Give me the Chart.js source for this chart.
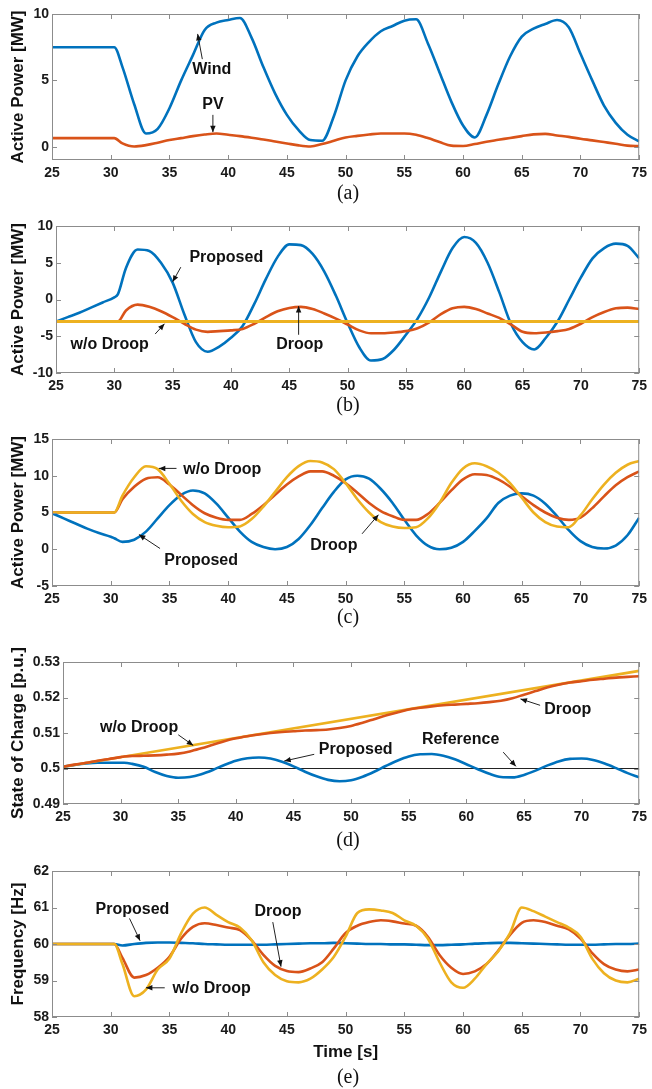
<!DOCTYPE html>
<html>
<head>
<meta charset="utf-8">
<script src="https://cdn.jsdelivr.net/npm/chart.js@4.4.0/dist/chart.umd.min.js"></script>
<style>
  body { margin: 0; background: #fff; width: 652px; height: 1089px; position: relative; overflow: hidden; }
  canvas { position: absolute; left: 0; }
  .cap { position: absolute; left: 248px; width: 200px; text-align: center; height: 24px; line-height: 24px;
         font: 20px "Liberation Serif", "Times New Roman", serif; color: #111; }
</style>
</head>
<body>
<script>
// time axis (s)
const time = [25, 26, 27, 28, 29, 30, 30.3, 31, 32, 33, 34, 35, 36, 37, 38, 39, 40,
  41, 42, 43, 44, 45, 46, 47, 48, 49, 50, 51, 52, 53, 54, 55, 56, 57, 58, 59, 60,
  61, 62, 63, 64, 65, 66, 67, 68, 69, 70, 71, 72, 73, 74, 75];
const flatTime = [25, 75];
const timeTicks = [25, 30, 35, 40, 45, 50, 55, 60, 65, 70, 75];

// (a) wind / PV power [MW]
const windPower = [7.5, 7.5, 7.5, 7.5, 7.5, 7.5, 7.5,
  6.0, 3.2, 1.0, 1.35, 2.9, 5.0, 6.9, 8.8, 9.35, 9.55,
  9.7, 8.2, 6.0, 4.0, 2.4, 1.25, 0.5, 0.45, 2.3, 5.0,
  6.8, 7.9, 8.7, 9.1, 9.5, 9.6, 7.8, 5.6, 3.4, 1.6,
  0.7, 2.4, 4.7, 6.8, 8.3, 8.9, 9.25, 9.55, 9.0, 7.0,
  5.0, 3.1, 1.8, 0.9, 0.4];
const pvPower = [0.65, 0.65, 0.65, 0.65, 0.65, 0.65, 0.65,
  0.25, 0.02, 0.12, 0.3, 0.5, 0.65, 0.8, 0.92, 1.0, 0.9,
  0.8, 0.68, 0.55, 0.4, 0.25, 0.1, 0.02, 0.2, 0.45, 0.7,
  0.82, 0.92, 1.0, 1.0, 1.0, 0.9, 0.65, 0.35, 0.08, 0.05,
  0.2, 0.38, 0.52, 0.66, 0.8, 0.93, 0.97, 0.85, 0.74, 0.6,
  0.48, 0.35, 0.22, 0.08, 0.05];
const powerTicksA = [0, 5, 10];

// (b) active power [MW]
const bProposed = [-3.0, -2.4, -1.8, -1.1, -0.4, 0.3, 0.7,
  4.3, 6.8, 6.6, 5.0, 2.3, -2.0, -5.8, -7.1, -6.4, -5.2,
  -3.6, -0.6, 2.8, 5.8, 7.5, 7.4, 6.2, 3.8, 0.5, -3.2,
  -6.5, -8.3, -8.1, -6.8, -4.8, -2.6, 0.3, 3.8, 7.0, 8.5,
  7.7, 5.0, 1.0, -3.3, -5.8, -6.8, -5.2, -3.0, 0.0, 3.0,
  5.6, 7.0, 7.6, 7.3, 5.6];
const bDroop = [-3, -3, -3, -3, -3, -3, -3,
  -1.5, -0.7, -1.0, -1.6, -2.4, -3.3, -4.1, -4.4, -4.3, -4.2,
  -4.0, -3.3, -2.4, -1.6, -1.15, -1.0, -1.3, -1.9, -2.6, -3.4,
  -4.2, -4.6, -4.6, -4.5, -4.3, -3.9, -3.1, -2.0, -1.2, -1.0,
  -1.3, -1.9, -2.5, -3.4, -4.4, -4.6, -4.5, -4.3, -4.0, -3.3,
  -2.4, -1.7, -1.2, -1.1, -1.3];
const bNoDroop = [-3, -3];
const powerTicksB = [-10, -5, 0, 5, 10];

// (c) active power [MW]
const cProposed = [4.9, 4.2, 3.5, 2.8, 2.2, 1.7, 1.5,
  1.0, 1.3, 2.4, 4.2, 6.0, 7.4, 8.0, 7.6, 6.2, 4.3,
  2.4, 1.0, 0.3, 0.0, 0.3, 1.4, 3.3, 5.6, 7.8, 9.5,
  10.0, 9.6, 8.2, 6.3, 4.0, 1.9, 0.5, 0.0, 0.2, 1.0,
  2.5, 4.2, 6.3, 7.3, 7.6, 7.3, 6.2, 4.5, 2.6, 1.1,
  0.3, 0.1, 0.5, 1.9, 4.3];
const cDroop = [5, 5, 5, 5, 5, 5, 5,
  6.8, 8.5, 9.6, 9.8, 8.8, 7.4, 6.0, 4.9, 4.3, 4.0,
  4.0, 4.8, 6.0, 7.4, 8.8, 9.9, 10.6, 10.6, 10.0, 9.0,
  7.7, 6.3, 5.2, 4.5, 4.0, 4.0, 4.8, 6.3, 8.0, 9.5,
  10.2, 10.1, 9.5, 8.5, 7.2, 6.0, 5.0, 4.3, 4.0, 4.3,
  5.6, 7.2, 8.7, 9.8, 10.6];
const cNoDroop = [5, 5, 5, 5, 5, 5, 5,
  7.3, 9.8, 11.3, 10.9, 8.9, 6.6, 4.8, 3.7, 3.2, 3.0,
  3.1, 4.1, 5.8, 7.8, 9.8, 11.3, 12.0, 11.8, 10.9, 9.0,
  6.8, 5.0, 3.7, 3.1, 2.9, 3.0, 4.2, 6.3, 9.0, 11.0,
  11.7, 11.3, 10.4, 9.0, 7.0, 5.0, 3.7, 3.1, 3.0, 4.6,
  6.8, 8.8, 10.4, 11.5, 12.0];
const powerTicksC = [-5, 0, 5, 10, 15];

// (d) state of charge [p.u.]
const socProposed = [0.5005, 0.5010, 0.5014, 0.5016, 0.5016, 0.5016, 0.5016,
  0.5013, 0.5005, 0.4990, 0.4979, 0.4974, 0.4976, 0.4984, 0.4996, 0.5010, 0.5022,
  0.5029, 0.5031, 0.5028, 0.5019, 0.5006, 0.4991, 0.4978, 0.4968, 0.4964, 0.4967,
  0.4977, 0.4991, 0.5007, 0.5022, 0.5034, 0.5040, 0.5041, 0.5036, 0.5026, 0.5012,
  0.4998, 0.4985, 0.4976, 0.4975, 0.4982, 0.4994, 0.5008, 0.5020, 0.5027, 0.5028,
  0.5024, 0.5014, 0.5001, 0.4987, 0.4975];
const socDroop = [0.5005, 0.5011, 0.5016, 0.5022, 0.5027, 0.5032, 0.5034,
  0.5035, 0.5036, 0.5037, 0.5039, 0.5042, 0.5048, 0.5057, 0.5067, 0.5077, 0.5085,
  0.5091, 0.5096, 0.5100, 0.5103, 0.5105, 0.5107, 0.5108, 0.5110, 0.5114, 0.5120,
  0.5129, 0.5139, 0.5149, 0.5158, 0.5166, 0.5171, 0.5175, 0.5178, 0.5180, 0.5182,
  0.5184, 0.5187, 0.5191, 0.5198, 0.5208, 0.5218, 0.5228, 0.5236, 0.5242, 0.5246,
  0.5250, 0.5253, 0.5256, 0.5258, 0.5260];
const socNoDroop = [0.5005, 0.5275];
const socReference = [0.5, 0.5];
const socTicks = [0.49, 0.5, 0.51, 0.52, 0.53];

// (e) frequency [Hz]
const fProposed = [60, 60, 60, 60, 60, 60, 60,
  59.96, 60.0, 60.03, 60.04, 60.04, 60.03, 60.02, 60.0, 59.99, 59.98,
  59.98, 59.98, 59.98, 59.99, 60.0, 60.01, 60.02, 60.02, 60.03, 60.02,
  60.01, 60.0, 60.0, 59.99, 59.99, 59.98, 59.97, 59.97, 59.98, 59.99,
  60.01, 60.02, 60.03, 60.03, 60.02, 60.01, 60.0, 59.99, 59.98, 59.98,
  59.98, 59.99, 60.0, 60.0, 60.01];
const fDroop = [60, 60, 60, 60, 60, 60, 60,
  59.62, 59.08, 59.15, 59.35, 59.65, 60.15, 60.47, 60.57, 60.52, 60.45,
  60.38, 60.1, 59.7, 59.4, 59.26, 59.23, 59.33, 59.5, 59.88, 60.3,
  60.5, 60.6, 60.65, 60.62, 60.56, 60.5, 60.2, 59.7, 59.35, 59.18,
  59.25, 59.45, 59.82, 60.25, 60.58, 60.65, 60.6, 60.5, 60.4, 60.15,
  59.75, 59.45, 59.3, 59.25, 59.3];
const fNoDroop = [60, 60, 60, 60, 60, 60, 60,
  59.45, 58.57, 58.75, 59.3, 59.6, 60.3, 60.83, 61.0, 60.8, 60.6,
  60.45, 60.1, 59.5, 59.15, 58.98, 58.95, 59.05, 59.3, 59.65, 60.2,
  60.85, 60.95, 60.92, 60.85, 60.65, 60.5, 60.15, 59.5, 58.95, 58.8,
  59.05, 59.45, 59.8, 60.3, 61.0, 60.9, 60.75, 60.6, 60.45, 60.2,
  59.6, 59.2, 59.0, 58.95, 59.05];
const freqTicks = [58, 59, 60, 61, 62];

const BLUE = '#0072BD', ORANGE = '#D95319', YELLOW = '#EDB120';
const SANS = '"Liberation Sans", Arial, sans-serif';
const PAD_TOP = 20, PLOT_RIGHT = 644;

// text labels with arrows, in data units: [text, x, y, arrow from x, y, arrow to x, y]
const notesA = [['Wind', 38.6, 5.8, 37.8, 6.6, 37.4, 8.5], ['PV', 38.7, 3.2, 38.7, 2.4, 38.7, 1.1]];
const notesB = [['Proposed', 39.6, 5.7, 35.7, 4.4, 35.0, 2.4], ['w/o Droop', 29.6, -6.2, 33.5, -4.7, 34.3, -3.3],
  ['Droop', 45.9, -6.2, 45.8, -4.8, 45.8, -0.9]];
const notesC = [['w/o Droop', 39.5, 10.9, 35.6, 11.0, 34.1, 11.0], ['Proposed', 37.7, -1.6, 34.2, 0.1, 32.4, 2.0],
  ['Droop', 49.0, 0.45, 51.4, 2.1, 52.8, 4.7]];
const notesD = [['w/o Droop', 31.6, 0.5116, 35.0, 0.5095, 36.3, 0.5065], ['Proposed', 50.4, 0.5054, 46.8, 0.5040, 44.2, 0.5021],
  ['Reference', 59.5, 0.5081, 63.2, 0.5046, 64.3, 0.5006], ['Droop', 68.8, 0.5166, 66.4, 0.5178, 64.7, 0.5196]];
const notesE = [['Proposed', 31.85, 60.93, 31.6, 60.7, 32.5, 60.09], ['w/o Droop', 38.6, 58.77, 34.6, 58.8, 33.0, 58.8],
  ['Droop', 44.25, 60.9, 43.8, 60.6, 44.5, 59.38]];

function boxPlugin(notes) {
  return {
    id: 'box',
    afterDatasetsDraw(chart) {
      const { ctx, chartArea: a, scales: { x, y } } = chart;
      ctx.save();
      ctx.strokeStyle = '#8c8c8c';
      ctx.lineWidth = 1;
      ctx.strokeRect(a.left + 0.5, a.top + 0.5, a.right - a.left - 1, a.bottom - a.top - 1);
      ctx.beginPath();
      x.ticks.forEach(t => {
        const px = Math.round(x.getPixelForValue(t.value)) + 0.5;
        ctx.moveTo(px, a.bottom); ctx.lineTo(px, a.bottom - 5);
        ctx.moveTo(px, a.top); ctx.lineTo(px, a.top + 5);
      });
      y.ticks.forEach(t => {
        const py = Math.round(y.getPixelForValue(t.value)) + 0.5;
        ctx.moveTo(a.left, py); ctx.lineTo(a.left + 5, py);
        ctx.moveTo(a.right, py); ctx.lineTo(a.right - 5, py);
      });
      ctx.stroke();

      ctx.fillStyle = '#111';
      ctx.strokeStyle = '#222';
      ctx.font = 'bold 16px ' + SANS;
      ctx.textAlign = 'center';
      ctx.textBaseline = 'middle';
      notes.forEach(([text, tx, ty, fx, fy, ex, ey]) => {
        ctx.fillText(text, x.getPixelForValue(tx), y.getPixelForValue(ty));
        const x0 = x.getPixelForValue(fx), y0 = y.getPixelForValue(fy);
        const x1 = x.getPixelForValue(ex), y1 = y.getPixelForValue(ey);
        const ang = Math.atan2(y1 - y0, x1 - x0);
        ctx.beginPath();
        ctx.moveTo(x0, y0); ctx.lineTo(x1, y1);
        ctx.stroke();
        ctx.beginPath();
        ctx.moveTo(x1, y1);
        ctx.lineTo(x1 - 7 * Math.cos(ang - 0.4), y1 - 7 * Math.sin(ang - 0.4));
        ctx.lineTo(x1 - 7 * Math.cos(ang + 0.4), y1 - 7 * Math.sin(ang + 0.4));
        ctx.closePath();
        ctx.fill();
      });
      ctx.restore();
    }
  };
}

const panels = [
  { top: 14, bottom: 160, left: 52, xBand: 28, caption: '(a)', capY: 193, yTitle: 'Active Power [MW]',
    yMin: -1, yMax: 10, yTicks: powerTicksA, notes: notesA,
    series: [
      { t: time, v: windPower, color: BLUE },
      { t: time, v: pvPower, color: ORANGE },
    ] },
  { top: 226, bottom: 373, left: 56, xBand: 28, caption: '(b)', capY: 405, yTitle: 'Active Power [MW]',
    yMin: -10, yMax: 10, yTicks: powerTicksB, notes: notesB,
    series: [
      { t: flatTime, v: bNoDroop, color: YELLOW, width: 3 },
      { t: time, v: bDroop, color: ORANGE },
      { t: time, v: bProposed, color: BLUE },
    ] },
  { top: 439, bottom: 586, left: 52, xBand: 28, caption: '(c)', capY: 617, yTitle: 'Active Power [MW]',
    yMin: -5, yMax: 15, yTicks: powerTicksC, notes: notesC,
    series: [
      { t: time, v: cNoDroop, color: YELLOW },
      { t: time, v: cDroop, color: ORANGE },
      { t: time, v: cProposed, color: BLUE },
    ] },
  { top: 662, bottom: 804, left: 63, xBand: 28, caption: '(d)', capY: 840, yTitle: 'State of Charge [p.u.]',
    yMin: 0.49, yMax: 0.53, yTicks: socTicks, notes: notesD,
    series: [
      { t: time, v: socDroop, color: ORANGE },
      { t: flatTime, v: socNoDroop, color: YELLOW },
      { t: time, v: socProposed, color: BLUE },
      { t: flatTime, v: socReference, color: '#222', width: 1.2 },
    ] },
  { top: 871, bottom: 1017, left: 52, xBand: 58, caption: '(e)', capY: 1077, yTitle: 'Frequency [Hz]',
    xTitle: 'Time [s]', yMin: 58, yMax: 62, yTicks: freqTicks, notes: notesE,
    series: [
      { t: time, v: fNoDroop, color: YELLOW },
      { t: time, v: fDroop, color: ORANGE },
      { t: time, v: fProposed, color: BLUE },
    ] },
];

const tickFont = { family: SANS, size: 14, weight: 'bold' };
const titleFont = { family: SANS, size: 17, weight: 'bold' };

panels.forEach(p => {
  const cv = document.createElement('canvas');
  cv.width = 652;
  cv.height = p.bottom - p.top + PAD_TOP + p.xBand;
  cv.style.top = (p.top - PAD_TOP) + 'px';
  document.body.appendChild(cv);

  const cap = document.createElement('div');
  cap.className = 'cap';
  cap.style.top = (p.capY - 12) + 'px';
  cap.textContent = p.caption;
  document.body.appendChild(cap);

  new Chart(cv, {
    type: 'line',
    data: {
      datasets: p.series.map(s => ({
        data: s.t.map((t, i) => ({ x: t, y: s.v[i] })),
        borderColor: s.color,
        borderWidth: s.width || 2.6,
        pointRadius: 0,
        cubicInterpolationMode: 'monotone',
        fill: false,
      })),
    },
    options: {
      responsive: false,
      animation: false,
      events: [],
      layout: { padding: { top: PAD_TOP, right: 652 - PLOT_RIGHT, left: 0, bottom: 0 } },
      plugins: { legend: { display: false }, tooltip: { enabled: false } },
      scales: {
        x: {
          type: 'linear', min: 25, max: 75,
          afterBuildTicks: s => { s.ticks = timeTicks.map(v => ({ value: v })); },
          afterFit: s => { s.height = p.xBand; },
          grid: { display: false, drawTicks: false },
          border: { display: false },
          ticks: { padding: 5, autoSkip: false, maxRotation: 0, font: tickFont, color: '#1a1a1a',
                   callback: v => String(v) },
          title: p.xTitle
            ? { display: true, text: p.xTitle, font: titleFont, color: '#111', padding: { top: 0, bottom: 12 } }
            : { display: false },
        },
        y: {
          type: 'linear', min: p.yMin, max: p.yMax,
          afterBuildTicks: s => { s.ticks = p.yTicks.map(v => ({ value: v })); },
          afterFit: s => { s.width = p.left; },
          grid: { display: false, drawTicks: false },
          border: { display: false },
          ticks: { padding: 3, autoSkip: false, font: tickFont, color: '#1a1a1a', callback: v => String(v) },
          title: { display: true, text: p.yTitle, font: titleFont, color: '#111', padding: { top: 8, bottom: 0 } },
        },
      },
    },
    plugins: [boxPlugin(p.notes)],
  });
});
</script>
</body>
</html>
